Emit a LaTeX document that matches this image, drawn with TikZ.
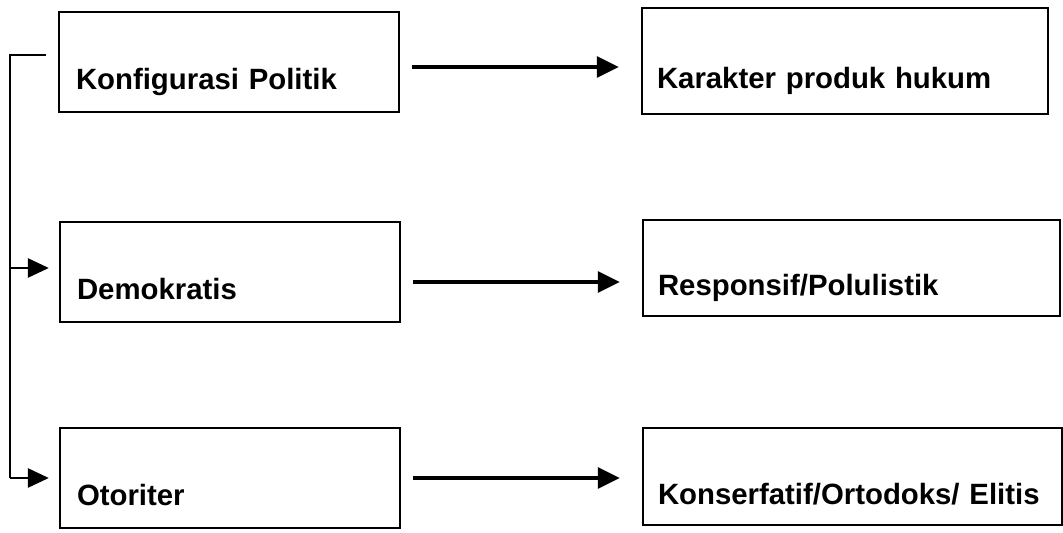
\documentclass[tikz,border=0pt]{standalone}
\usepackage{fontspec}
\setmainfont{Liberation Sans}
\usepackage{tikz}
\usetikzlibrary{arrows.meta}
\tikzset{>={Triangle[length=0.44cm,width=0.42cm]}}
\tikzset{
  box/.style={draw, line width=1.3pt, align=left, font=\fontsize{16.7}{19}\selectfont\bfseries,
    text height=1.3cm, text depth=0.18cm, minimum height=2cm},
  leftbox/.style={box, inner xsep=0.34cm, text width=6.12cm},
  rightbox/.style={box, inner xsep=0.3cm, text width=7.52cm},
  flow/.style={->, line width=1.8pt, shorten <=0.24cm, shorten >=0.44cm},
  rail/.style={line width=1.5pt},
  branch/.style={rail, -{Triangle[length=0.42cm,width=0.38cm]}, shorten >=0.2cm}
}

\begin{document}
\begin{tikzpicture}
\useasboundingbox (0,0) rectangle (21.26,-10.66);
% left column
\node[leftbox] (konf) at (4.58,-1.24) {Konfigurasi Politik};
\node[leftbox] (dem) at (4.60,-5.44) {Demokratis};
\node[leftbox] (oto) at (4.60,-9.56) {Otoriter};
% right column
\node[rightbox, minimum height=2.12cm] (kar) at (16.90,-1.22) {Karakter produk hukum};
\node[rightbox, text width=7.74cm, minimum height=1.92cm] (resp) at (17.03,-5.36) {Responsif/Polulistik};
\node[rightbox, text width=7.78cm, minimum height=1.94cm] (kons) at (17.05,-9.53) {Konserfatif/Ortodoks/ Elitis};
% arrows between columns
\draw[flow] ([yshift=-0.1cm]konf.east) -- ([yshift=-0.1cm]konf.east -| kar.west);
\draw[flow] ([yshift=-0.2cm]dem.east) -- ([yshift=-0.2cm]dem.east -| resp.west);
\draw[flow] (oto.east) -- (oto.east -| kons.west);
% bracket on the left
\coordinate (top) at (0.2,-1.1);
\draw[rail] ([xshift=-0.24cm]top -| konf.west) -- (top) -- (top |- oto.west);
\draw[branch] ([yshift=0.08cm]top |- dem.west) -- ([yshift=0.08cm]dem.west);
\draw[branch] (top |- oto.west) -- (oto.west);
\end{tikzpicture}
\end{document}
